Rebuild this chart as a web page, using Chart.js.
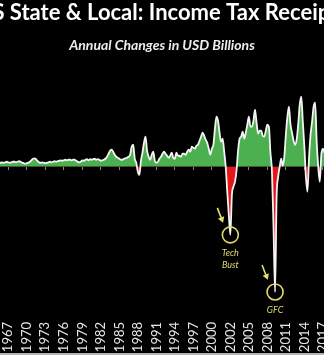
<!DOCTYPE html>
<html>
<head>
<meta charset="utf-8">
<script src="https://cdn.jsdelivr.net/npm/chart.js@4.4.1/dist/chart.umd.min.js"></script>
<style>
  html, body { margin: 0; padding: 0; background: #000; }
  #wrap { position: relative; width: 324px; height: 353px; overflow: hidden; border-bottom: 2px solid #b4b4b4; }
  #chart { position: absolute; left: -38px; top: 0; }
</style>
</head>
<body>
<div id="wrap"><canvas id="chart" width="400" height="353"></canvas></div>
<script>
// --- Data (quarterly, annual change in USD billions) ---
const tickLabels = ["1967", "1970", "1973", "1976", "1979", "1982", "1985", "1988", "1991",
  "1994", "1997", "2000", "2002", "2005", "2008", "2011", "2014", "2017"];
const firstTick = 6;   // index of the quarter under the first label
const tickStep = 12;   // quarters between labels

const values = [
  2.0, 2.0, 2.2, 2.0, 2.2, 2.5, 2.2, 2.0, 2.2, 2.5,
  2.5, 2.2, 2.5, 2.8, 2.5, 2.0, 1.8, 1.5, 1.8, 2.0,
  2.5, 3.2, 4.0, 4.2, 3.8, 2.8, 2.2, 2.0, 2.2, 2.0,
  1.8, 2.0, 2.2, 2.5, 2.2, 2.5, 2.8, 2.5, 2.8, 3.0,
  3.2, 3.0, 3.2, 3.5, 3.2, 3.5, 3.5, 3.2, 3.5, 3.5,
  3.0, 2.5, 2.2, 2.5, 3.2, 3.0, 3.5, 3.8, 3.2, 3.8,
  3.5, 3.8, 4.0, 3.5, 3.8, 3.5, 3.0, 3.2, 3.5, 4.0,
  5.0, 6.5, 8.0, 8.5, 7.5, 6.0, 5.0, 4.5, 4.0, 3.5,
  3.5, 4.0, 4.2, 4.5, 5.0, 6.0, 10.0, 11.0, 4.0, 2.0,
  -2.5, -4.0, 3.0, 7.0, 12.0, 15.0, 8.0, 5.0, 3.5, 6.0,
  7.5, 3.0, 2.0, 2.5, 4.0, 5.0, 6.5, 7.5, 6.5, 5.5,
  4.5, 5.5, 7.0, 4.5, 4.0, 7.0, 5.5, 5.5, 5.0, 6.5,
  6.5, 6.0, 7.5, 8.5, 7.5, 10.0, 9.5, 9.0, 10.5, 11.0,
  13.0, 15.0, 17.0, 15.5, 13.5, 12.0, 9.0, 6.0, 9.0, 11.0,
  19.0, 25.0, 23.0, 17.0, 12.5, 14.0, 7.5, 0, -12.5, -24.0,
  -34.0, -14.0, -10.0, -7.5, -2.0, 8.0, 14.0, 15.0, 17.5, 14.0,
  17.0, 21.0, 25.0, 20.0, 20.0, 23.0, 28.5, 22.0, 16.5, 18.0,
  18.0, 15.5, 15.0, 18.0, 21.0, 20.0, 7.0, -2.5, -30.0, -62.5,
  -15.0, -5.0, 0, 4.0, 0.5, 5.0, 16.0, 25.0, 30.0, 21.0,
  17.0, 13.0, 11.0, 13.5, 21.0, 31.0, 35.0, 22.5, 10.0, -5.0,
  -12.5, 4.0, 16.0, 22.5, 30.0, 32.0, 12.5, 0, -7.5, 6.0, 9.0, 7.0
];

// callouts: [data index, lines of text]
const callouts = [
  [150, ["Tech", "Bust"]],
  [179, ["GFC"]]
];

const points = values.map((v, i) => ({ x: i, y: v }));
const tickValues = tickLabels.map((l, k) => firstTick + k * tickStep);
const yellow = "#e2dc72";

// --- Callout circles, arrows, text ---
const calloutPlugin = {
  id: "callouts",
  afterDatasetsDraw(chart) {
    const { ctx, scales: { x, y } } = chart;
    ctx.save();
    ctx.strokeStyle = yellow;
    ctx.fillStyle = yellow;
    ctx.lineWidth = 1.6;
    callouts.forEach(([idx, lines]) => {
      const cx = x.getPixelForValue(idx);
      const cy = y.getPixelForValue(values[idx]);
      ctx.beginPath();
      ctx.arc(cx, cy, 8, 0, Math.PI * 2);
      ctx.stroke();
      // arrow
      const x0 = cx - 13, y0 = cy - 27, x1 = cx - 8, y1 = cy - 14;
      ctx.beginPath();
      ctx.moveTo(x0, y0);
      ctx.lineTo(x1, y1);
      ctx.stroke();
      const a = Math.atan2(y1 - y0, x1 - x0);
      ctx.beginPath();
      ctx.moveTo(x1 + Math.cos(a) * 2, y1 + Math.sin(a) * 2);
      ctx.lineTo(x1 + Math.cos(a + 2.4) * 5, y1 + Math.sin(a + 2.4) * 5);
      ctx.lineTo(x1 + Math.cos(a - 2.4) * 5, y1 + Math.sin(a - 2.4) * 5);
      ctx.closePath();
      ctx.fill();
      // text
      ctx.font = "italic 9px Lato";
      ctx.textAlign = "center";
      ctx.textBaseline = "middle";
      lines.forEach((t, k) => ctx.fillText(t, cx, cy + 18 + k * 12));
    });
    ctx.restore();
  }
};

new Chart(document.getElementById("chart"), {
  type: "line",
  data: {
    datasets: [{
      data: points,
      borderColor: "#f4f4f4",
      borderWidth: 1.8,
      pointRadius: 0,
      tension: 0.3,
      cubicInterpolationMode: "monotone",
      fill: { target: "origin", above: "#4cb050", below: "#e4161a" }
    }]
  },
  options: {
    responsive: false,
    animation: false,
    layout: { padding: 0, autoPadding: false },
    plugins: {
      legend: { display: false },
      tooltip: { enabled: false },
      title: {
        display: true,
        text: "US State & Local: Income Tax Receipts",
        color: "#ffffff",
        font: { family: "Lato", size: 22, weight: "bold" },
        padding: { top: 0, bottom: 11 }
      },
      subtitle: {
        display: true,
        text: "Annual Changes in USD Billions",
        color: "#eeeeee",
        font: { family: "Lato", size: 14, weight: "bold", style: "italic" },
        padding: { top: 0, bottom: 6 }
      }
    },
    scales: {
      x: {
        type: "linear",
        min: -24.03,
        max: 235.38,
        grid: { display: false, drawTicks: false },
        border: { display: false },
        afterBuildTicks: (axis) => { axis.ticks = tickValues.map(v => ({ value: v })); },
        afterFit: (axis) => { axis.height = 35; },
        ticks: {
          autoSkip: false,
          minRotation: 90,
          maxRotation: 90,
          padding: 4,
          color: "#e6e6e6",
          font: { family: "Lato", size: 13 },
          callback: (v) => tickLabels[(v - firstTick) / tickStep]
        }
      },
      x2: {
        type: "linear",
        position: { y: 0 },
        min: -24.03,
        max: 235.38,
        afterBuildTicks: (axis) => { axis.ticks = tickValues.map(v => ({ value: v })); },
        grid: { drawOnChartArea: false, drawTicks: true, tickLength: 3, color: "#8a8a8a" },
        border: { display: false },
        ticks: { display: false }
      },
      y: {
        display: false,
        min: -75.5,
        max: 53.2
      }
    }
  },
  plugins: [calloutPlugin]
});
</script>
</body>
</html>
